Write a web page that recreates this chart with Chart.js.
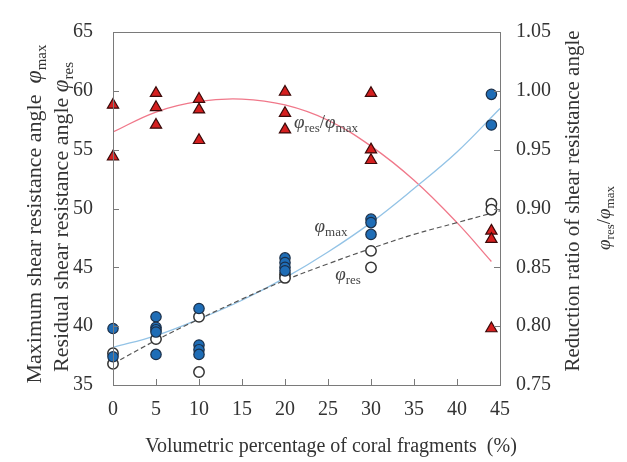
<!DOCTYPE html>
<html>
<head>
<meta charset="utf-8">
<script src="https://cdn.jsdelivr.net/npm/chart.js@4.4.1/dist/chart.umd.min.js"></script>
<style>
  html, body { margin: 0; padding: 0; background: #fff; }
  #wrap { width: 627px; height: 462px; }
</style>
</head>
<body>
<div id="wrap"><canvas id="shearChart" width="627" height="462"></canvas></div>
<script>
// peak shear resistance angle (filled circles)
const maxX = [0, 0, 5, 5, 5, 5, 5, 10, 10, 10, 10, 20, 20, 20, 20, 30, 30, 30, 44, 44];
const maxY = [39.8, 37.4, 40.8, 39.9, 39.7, 39.5, 37.6, 41.5, 38.4, 38.0, 37.6, 45.8, 45.4, 45.0, 44.7, 49.1, 48.8, 47.8, 59.7, 57.1];

// residual shear resistance angle (open circles)
const resX = [0, 0, 5, 10, 10, 20, 20, 30, 30, 44, 44];
const resY = [37.7, 36.8, 38.9, 40.8, 36.1, 44.4, 44.1, 46.4, 45.0, 50.4, 49.9];

// reduction ratio res/max (triangles, right axis)
const ratioX = [0, 0, 5, 5, 5, 10, 10, 10, 20, 20, 20, 30, 30, 30, 44, 44, 44];
const ratioY = [0.988, 0.944, 0.998, 0.986, 0.971, 0.993, 0.984, 0.958, 0.999, 0.981, 0.967, 0.998, 0.950, 0.941, 0.881, 0.874, 0.798];

// trend curves for the angles (run to the right edge)
const fitX = [0, 5, 10, 15, 20, 25, 30, 35, 40, 45];
const fitMax = [38.2, 39.2, 40.6, 42.2, 44.1, 46.3, 48.8, 51.7, 54.8, 58.5];
const fitRes = [36.8, 38.8, 40.6, 42.3, 43.9, 45.3, 46.6, 47.8, 48.8, 49.8];

// trend curve for the ratio (stops at the last test)
const ratioFitX = [0, 5, 10, 15, 20, 25, 30, 35, 40, 44];
const fitRatio = [0.965, 0.982, 0.991, 0.993, 0.988, 0.975, 0.953, 0.924, 0.888, 0.855];

const xTicks = [0, 5, 10, 15, 20, 25, 30, 35, 40, 45];

const SERIF = 'Liberation Serif';
const TEXT = '#333';
const FRAME = '#7a7a7a';

const pts = (xs, ys) => xs.map((x, i) => ({ x: x, y: ys[i] }));

// draws a run of text pieces (roman / italic phi / subscript) centred on x
function richText(ctx, parts, x, y) {
    let w = 0;
    parts.forEach(p => { ctx.font = p.font; w += ctx.measureText(p.t).width; });
    let cx = x - w / 2;
    ctx.textAlign = 'left';
    ctx.textBaseline = 'middle';
    parts.forEach(p => {
        ctx.font = p.font;
        ctx.fillText(p.t, cx, y + (p.dy || 0));
        cx += ctx.measureText(p.t).width;
    });
}

const phi = size => ({ t: 'φ', font: 'italic ' + size + 'px ' + SERIF });
const sub = (t, size) => ({ t: t, font: size + 'px ' + SERIF, dy: size * 0.45 });
const txt = (t, size) => ({ t: t, font: size + 'px ' + SERIF });

function vertical(ctx, parts, x, y) {
    ctx.save();
    ctx.translate(x, y);
    ctx.rotate(-Math.PI / 2);
    richText(ctx, parts, 0, 0);
    ctx.restore();
}

const framePlugin = {
    id: 'frameAndLabels',
    afterDatasetsDraw(chart) {
        const ctx = chart.ctx;
        const a = chart.chartArea;
        const sx = chart.scales.x, sy = chart.scales.y, sy2 = chart.scales.y2;
        ctx.save();
        ctx.strokeStyle = FRAME;
        ctx.lineWidth = 1;
        ctx.strokeRect(Math.round(a.left) + 0.5, Math.round(a.top) + 0.5,
            Math.round(a.right - a.left), Math.round(a.bottom - a.top));

        // inward tick marks
        ctx.beginPath();
        xTicks.slice(1, -1).forEach(v => {
            const px = Math.round(sx.getPixelForValue(v)) + 0.5;
            ctx.moveTo(px, a.bottom);
            ctx.lineTo(px, a.bottom - 6);
        });
        [40, 45, 50, 55, 60].forEach(v => {
            const py = Math.round(sy.getPixelForValue(v)) + 0.5;
            ctx.moveTo(a.left, py);
            ctx.lineTo(a.left + 6, py);
        });
        [0.80, 0.85, 0.90, 0.95, 1.00].forEach(v => {
            const py = Math.round(sy2.getPixelForValue(v)) + 0.5;
            ctx.moveTo(a.right, py);
            ctx.lineTo(a.right - 6, py);
        });
        ctx.stroke();

        // curve labels
        ctx.fillStyle = '#444';
        richText(ctx, [phi(19), sub('res', 13), txt('/', 19), phi(19), sub('max', 13)], 326, 123);
        richText(ctx, [phi(19), sub('max', 13)], 331, 227);
        richText(ctx, [phi(19), sub('res', 13)], 348, 275);

        // axis titles
        ctx.fillStyle = TEXT;
        richText(ctx, [txt('Volumetric percentage of coral fragments  (%)', 20)], 331, 447);

        vertical(ctx, [txt('Maximum shear resistance angle  ', 22), phi(24), sub('max', 15)], 35, 214);
        vertical(ctx, [txt('Residual shear resistance angle ', 22), phi(23), sub('res', 15)], 62, 217);
        vertical(ctx, [txt('Reduction ratio of shear resistance angle', 21)], 573, 201);
        vertical(ctx, [phi(19), sub('res', 13), txt('/', 19), phi(19), sub('max', 13)], 605, 218);

        ctx.restore();
    }
};

const tickFont = { family: SERIF, size: 20 };

new Chart(document.getElementById('shearChart'), {
    type: 'scatter',
    data: {
        datasets: [
            {
                label: 'ratio',
                data: pts(ratioX, ratioY),
                yAxisID: 'y2',
                pointStyle: 'triangle',
                pointRadius: 6.5,
                backgroundColor: '#d51f1f',
                borderColor: '#3a0a0a',
                borderWidth: 1.2,
                clip: false,
                order: 1
            },
            {
                label: 'max',
                data: pts(maxX, maxY),
                yAxisID: 'y',
                pointRadius: 5.2,
                backgroundColor: '#1f6db6',
                borderColor: '#1b2f48',
                borderWidth: 1.2,
                clip: false,
                order: 2
            },
            {
                label: 'res',
                data: pts(resX, resY),
                yAxisID: 'y',
                pointRadius: 5.2,
                backgroundColor: '#ffffff',
                borderColor: '#333333',
                borderWidth: 1.5,
                clip: false,
                order: 3
            },
            {
                type: 'line',
                label: 'fit ratio',
                data: pts(ratioFitX, fitRatio),
                yAxisID: 'y2',
                borderColor: '#f0788a',
                borderWidth: 1.3,
                pointRadius: 0,
                tension: 0.4,
                fill: false,
                order: 6
            },
            {
                type: 'line',
                label: 'fit max',
                data: pts(fitX, fitMax),
                yAxisID: 'y',
                borderColor: '#93c3e6',
                borderWidth: 1.3,
                pointRadius: 0,
                tension: 0.4,
                fill: false,
                order: 5
            },
            {
                type: 'line',
                label: 'fit res',
                data: pts(fitX, fitRes),
                yAxisID: 'y',
                borderColor: '#555555',
                borderWidth: 1.2,
                borderDash: [5, 3],
                pointRadius: 0,
                tension: 0.4,
                fill: false,
                order: 4
            }
        ]
    },
    options: {
        responsive: false,
        animation: false,
        layout: { padding: { top: 18, left: 0, right: 0, bottom: 0 } },
        plugins: {
            legend: { display: false },
            tooltip: { enabled: false }
        },
        scales: {
            x: {
                type: 'linear',
                min: 0,
                max: 45,
                afterFit: s => { s.height = 77; },
                afterBuildTicks: s => { s.ticks = xTicks.map(v => ({ value: v })); },
                grid: { display: false, drawTicks: false, tickLength: 0 },
                border: { display: false },
                ticks: { font: tickFont, color: TEXT, padding: 13, maxRotation: 0 }
            },
            y: {
                position: 'left',
                min: 35,
                max: 65,
                afterFit: s => { s.width = 113; },
                grid: { display: false, drawTicks: false, tickLength: 0 },
                border: { display: false },
                ticks: { stepSize: 5, font: tickFont, color: TEXT, padding: 20 }
            },
            y2: {
                position: 'right',
                min: 0.75,
                max: 1.05,
                afterFit: s => { s.width = 127; },
                grid: { display: false, drawTicks: false, tickLength: 0 },
                border: { display: false },
                ticks: {
                    stepSize: 0.05,
                    font: tickFont,
                    color: TEXT,
                    padding: 16,
                    callback: v => v.toFixed(2)
                }
            }
        }
    },
    plugins: [framePlugin]
});
</script>
</body>
</html>
